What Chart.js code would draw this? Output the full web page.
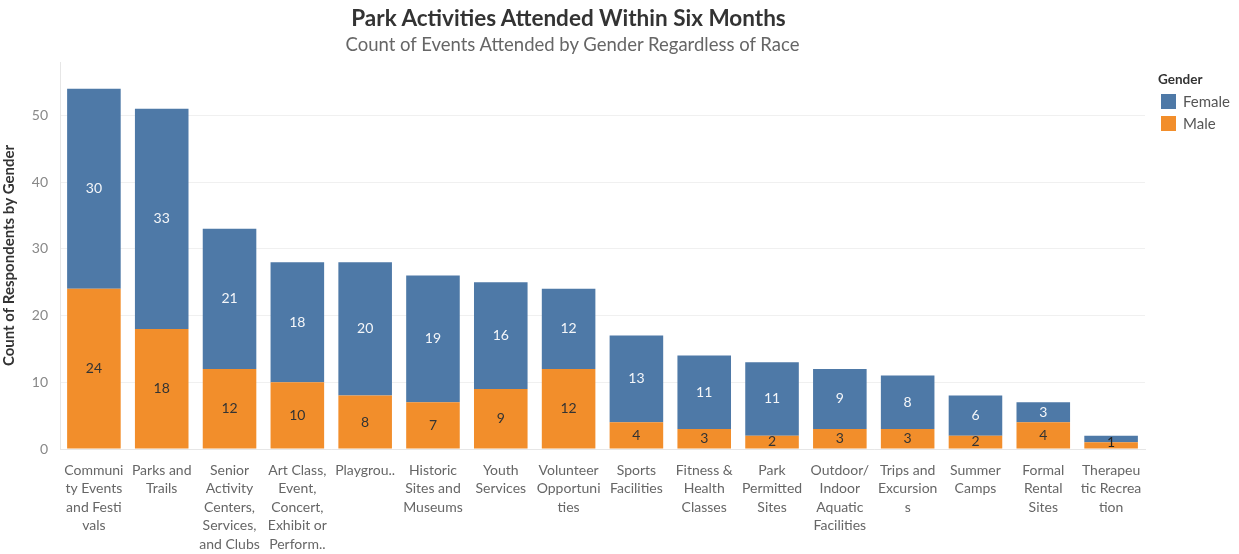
<!DOCTYPE html>
<html>
<head>
<meta charset="utf-8">
<title>Park Activities Attended Within Six Months</title>
<script src="https://cdn.jsdelivr.net/npm/chart.js@4.4.1/dist/chart.umd.min.js"></script>
<style>
  html, body { margin: 0; padding: 0; background: #fff; }
  body { font-family: Lato, "Open Sans", sans-serif; }
  .wrap { position: relative; width: 1239px; height: 554px; overflow: hidden; }
  .title { position: absolute; left: 0; width: 1137px; top: 4px; text-align: center;
           font-size: 22.5px; font-weight: bold; color: #333; }
  .subtitle { position: absolute; left: 0; width: 1145px; top: 33px; text-align: center;
              font-size: 18.5px; color: #666; }
  .legend { position: absolute; left: 1158px; top: 71px; font-size: 15px; color: #555; }
  .legend .hd { font-size: 13.5px; font-weight: bold; color: #333; margin-bottom: 3px; }
  .legend .row { display: flex; align-items: center; height: 22px; }
  .legend .sw { width: 15px; height: 15px; margin-right: 7px; margin-left: 3px; }
  canvas { position: absolute; left: 0; top: 0; }
</style>
</head>
<body>
<div class="wrap">
  <canvas id="chart" width="1239" height="554"></canvas>
  <div class="title">Park Activities Attended Within Six Months</div>
  <div class="subtitle">Count of Events Attended by Gender Regardless of Race</div>
  <div class="legend">
    <div class="hd">Gender</div>
    <div class="row"><span class="sw" style="background:#4e79a7"></span>Female</div>
    <div class="row"><span class="sw" style="background:#f28e2b"></span>Male</div>
  </div>
</div>
<script>
// activity categories (wrapped the way the axis shows them)
const categories = [
  ['Communi', 'ty Events', 'and Festi', 'vals'],
  ['Parks and', 'Trails'],
  ['Senior', 'Activity', 'Centers,', 'Services,', 'and Clubs'],
  ['Art Class,', 'Event,', 'Concert,', 'Exhibit or', 'Perform..'],
  ['Playgrou..'],
  ['Historic', 'Sites and', 'Museums'],
  ['Youth', 'Services'],
  ['Volunteer', 'Opportuni', 'ties'],
  ['Sports', 'Facilities'],
  ['Fitness &', 'Health', 'Classes'],
  ['Park', 'Permitted', 'Sites'],
  ['Outdoor/', 'Indoor', 'Aquatic', 'Facilities'],
  ['Trips and', 'Excursion', 's'],
  ['Summer', 'Camps'],
  ['Formal', 'Rental', 'Sites'],
  ['Therapeu', 'tic Recrea', 'tion']
];
const maleCounts   = [24, 18, 12, 10, 8, 7, 9, 12, 4, 3, 2, 3, 3, 2, 4, 1];
const femaleCounts = [30, 33, 21, 18, 20, 19, 16, 12, 13, 11, 11, 9, 8, 6, 3, 1];
const yTicks = [0, 10, 20, 30, 40, 50];

const BLUE = '#4e79a7';
const ORANGE = '#f28e2b';
const FONT = 'Lato, "Open Sans", sans-serif';

// value labels inside each stacked segment; tiny segments share one label
const segmentLabels = {
  id: 'segmentLabels',
  afterDatasetsDraw(chart) {
    const ctx = chart.ctx;
    const male = chart.getDatasetMeta(0).data;
    const female = chart.getDatasetMeta(1).data;
    ctx.save();
    ctx.font = '14px ' + FONT;
    ctx.textAlign = 'center';
    ctx.textBaseline = 'middle';
    male.forEach((m, i) => {
      const f = female[i];
      const mh = m.base - m.y;
      const fh = f.base - f.y;
      if (fh < 12) {
        // both parts too thin: one dark label across the stack
        ctx.fillStyle = '#222';
        ctx.fillText(maleCounts[i], m.x, (f.y + m.base) / 2);
        return;
      }
      ctx.fillStyle = '#333';
      ctx.fillText(maleCounts[i], m.x, Math.min(m.y + mh / 2, m.base - 7));
      ctx.fillStyle = '#f4f6f9';
      ctx.fillText(femaleCounts[i], f.x, f.y + fh / 2);
    });
    ctx.restore();
  }
};

new Chart(document.getElementById('chart'), {
  type: 'bar',
  data: {
    labels: categories,
    datasets: [
      { label: 'Male', data: maleCounts, backgroundColor: ORANGE },
      { label: 'Female', data: femaleCounts, backgroundColor: BLUE }
    ]
  },
  options: {
    responsive: false,
    animation: false,
    layout: { padding: { left: 0, right: 94, top: 62, bottom: 0 } },
    datasets: { bar: { categoryPercentage: 1, barPercentage: 0.79 } },
    plugins: {
      legend: { display: false },
      title: { display: false },
      tooltip: { enabled: false }
    },
    scales: {
      x: {
        stacked: true,
        grid: { display: false },
        border: { color: '#e6e6e6' },
        ticks: {
          autoSkip: false,
          maxRotation: 0,
          padding: 4,
          color: '#666',
          font: { family: FONT, size: 14, lineHeight: 1.32 }
        },
        afterFit(scale) { scale.height = 105; }
      },
      y: {
        stacked: true,
        min: 0,
        max: 58,
        afterBuildTicks(scale) { scale.ticks = yTicks.map(v => ({ value: v })); },
        grid: { color: '#f0f0f0', drawTicks: false },
        border: { color: '#e6e6e6' },
        ticks: {
          padding: 12,
          color: '#888',
          font: { family: FONT, size: 14 }
        },
        title: {
          display: true,
          text: 'Count of Respondents by Gender',
          color: '#333',
          padding: 0,
          font: { family: FONT, size: 15, weight: 'bold' }
        },
        afterFit(scale) { scale.width = 60; }
      }
    }
  },
  plugins: [segmentLabels]
});
</script>
</body>
</html>
